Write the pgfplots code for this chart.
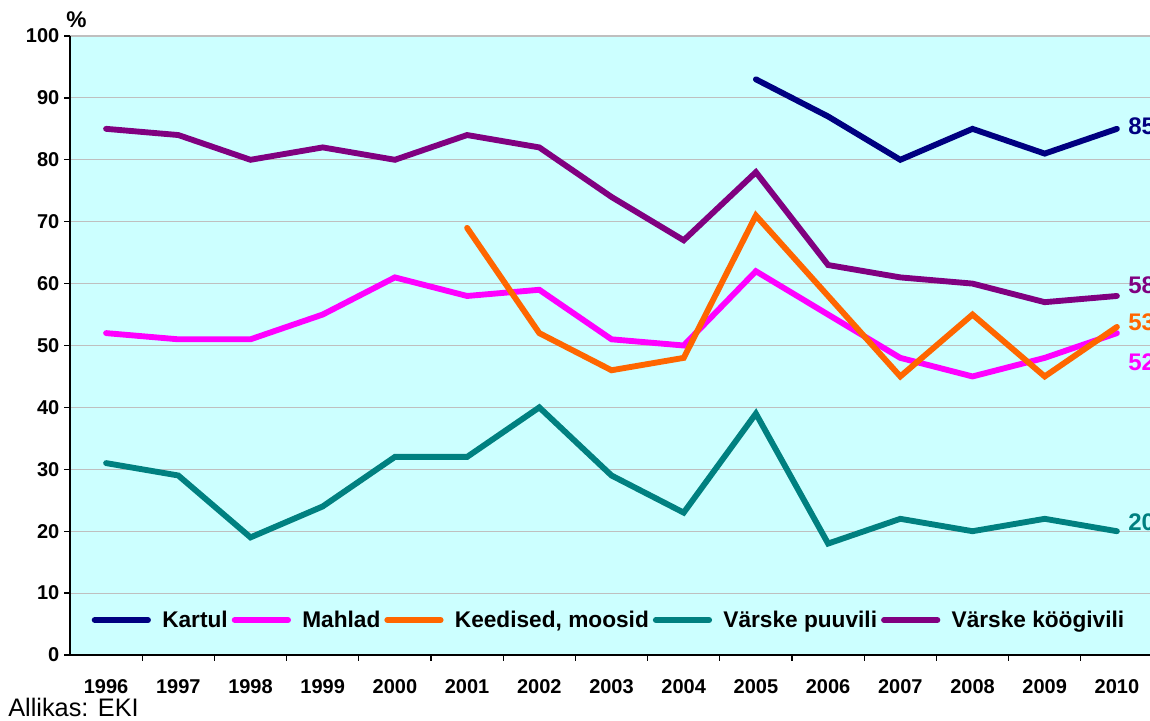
\documentclass[border=0pt]{standalone}
\usepackage{fontspec}
\setmainfont{Liberation Sans}
\usepackage{pgfplots}
\pgfplotsset{compat=1.18}
\definecolor{bgc}{HTML}{CCFFFF}
\definecolor{cKartul}{HTML}{000080}
\definecolor{cMahlad}{HTML}{FF00FF}
\definecolor{cKeed}{HTML}{FF6600}
\definecolor{cPuu}{HTML}{008080}
\definecolor{cKoog}{HTML}{800080}
\begin{document}
\begin{tikzpicture}
\begin{axis}[
  at={(0,0)}, anchor=south west,
  scale only axis, width=812.25pt, height=464.25pt,
  xmin=-0.5, xmax=14.5, ymin=0, ymax=100,
  axis x line*=bottom, axis y line*=left,
  x axis line style={-}, y axis line style={-},
  axis line style={black, line width=1.3pt},
  ytick={0,10,...,100},
  xtick={0,...,14},
  xticklabels={1996,1997,1998,1999,2000,2001,2002,2003,2004,2005,2006,2007,2008,2009,2010},
  minor xtick={0.5,1.5,...,13.5},
  major x tick style={draw=none},
  minor x tick style={black, line width=1pt},
  y tick style={black, line width=1pt},
  tick align=outside,
  major tick length=4.5pt, minor tick length=4.5pt,
  ymajorgrids, grid style={color=black!25, line width=0.8pt},
  axis background/.style={fill=bgc},
  /pgf/number format/assume math mode=true,
  ticklabel style={font=\bfseries\fontsize{15}{18}\selectfont},
  xticklabel style={yshift=-10.5pt},
  clip=false,
  legend style={at={(0.498,0.0565)}, anchor=center, draw=none, fill=none,
    font=\bfseries\fontsize{17}{20}\selectfont,
    /tikz/every even column/.append style={column sep=1pt},
    /tikz/every odd column/.append style={column sep=6.5pt}},
  legend columns=5,
  legend image code/.code={\draw[#1, line width=4.4pt, line cap=round] (0pt,0pt) -- (40pt,0pt);},
]
\addplot[cKartul, line width=4.4pt, line cap=round] coordinates {(9,93)(10,87)(11,80)(12,85)(13,81)(14,85)};
\addlegendentry{Kartul}
\addplot[cMahlad, line width=4.4pt, line cap=round] coordinates {(0,52)(1,51)(2,51)(3,55)(4,61)(5,58)(6,59)(7,51)(8,50)(9,62)(10,55)(11,48)(12,45)(13,48)(14,52)};
\addlegendentry{Mahlad}
\addplot[cKeed, line width=4.4pt, line cap=round] coordinates {(5,69)(6,52)(7,46)(8,48)(9,71)(10,58)(11,45)(12,55)(13,45)(14,53)};
\addlegendentry{Keedised, moosid}
\addplot[cPuu, line width=4.4pt, line cap=round] coordinates {(0,31)(1,29)(2,19)(3,24)(4,32)(5,32)(6,40)(7,29)(8,23)(9,39)(10,18)(11,22)(12,20)(13,22)(14,20)};
\addlegendentry{Värske puuvili}
\addplot[cKoog, line width=4.4pt, line cap=round] coordinates {(0,85)(1,84)(2,80)(3,82)(4,80)(5,84)(6,82)(7,74)(8,67)(9,78)(10,63)(11,61)(12,60)(13,57)(14,58)};
\addlegendentry{Värske köögivili}
\node[anchor=west, text=cKartul, font=\bfseries\fontsize{18}{21}\selectfont, xshift=5pt] at (axis cs:14,85.5) {85};
\node[anchor=west, text=cKoog, font=\bfseries\fontsize{18}{21}\selectfont, xshift=5pt] at (axis cs:14,59.8) {58};
\node[anchor=west, text=cKeed, font=\bfseries\fontsize{18}{21}\selectfont, xshift=5pt] at (axis cs:14,53.8) {53};
\node[anchor=west, text=cMahlad, font=\bfseries\fontsize{18}{21}\selectfont, xshift=5pt] at (axis cs:14,47.3) {52};
\node[anchor=west, text=cPuu, font=\bfseries\fontsize{18}{21}\selectfont, xshift=5pt] at (axis cs:14,21.5) {20};
\node[anchor=base west, inner sep=0pt, font=\bfseries\fontsize{17}{20}\selectfont, xshift=-3pt, yshift=6pt] at (rel axis cs:0,1) {\%};
\end{axis}
\node[anchor=base west, inner sep=0pt, font=\fontsize{19}{22}\selectfont] at ([xshift=-46.5pt, yshift=-46pt]current axis.south west) {Allikas: EKI};
\pgfresetboundingbox
\path[use as bounding box] ([xshift=-52.5pt,yshift=-49.5pt]current axis.south west) rectangle ([xshift=810pt,yshift=491.25pt]current axis.south west);
\end{tikzpicture}
\end{document}
